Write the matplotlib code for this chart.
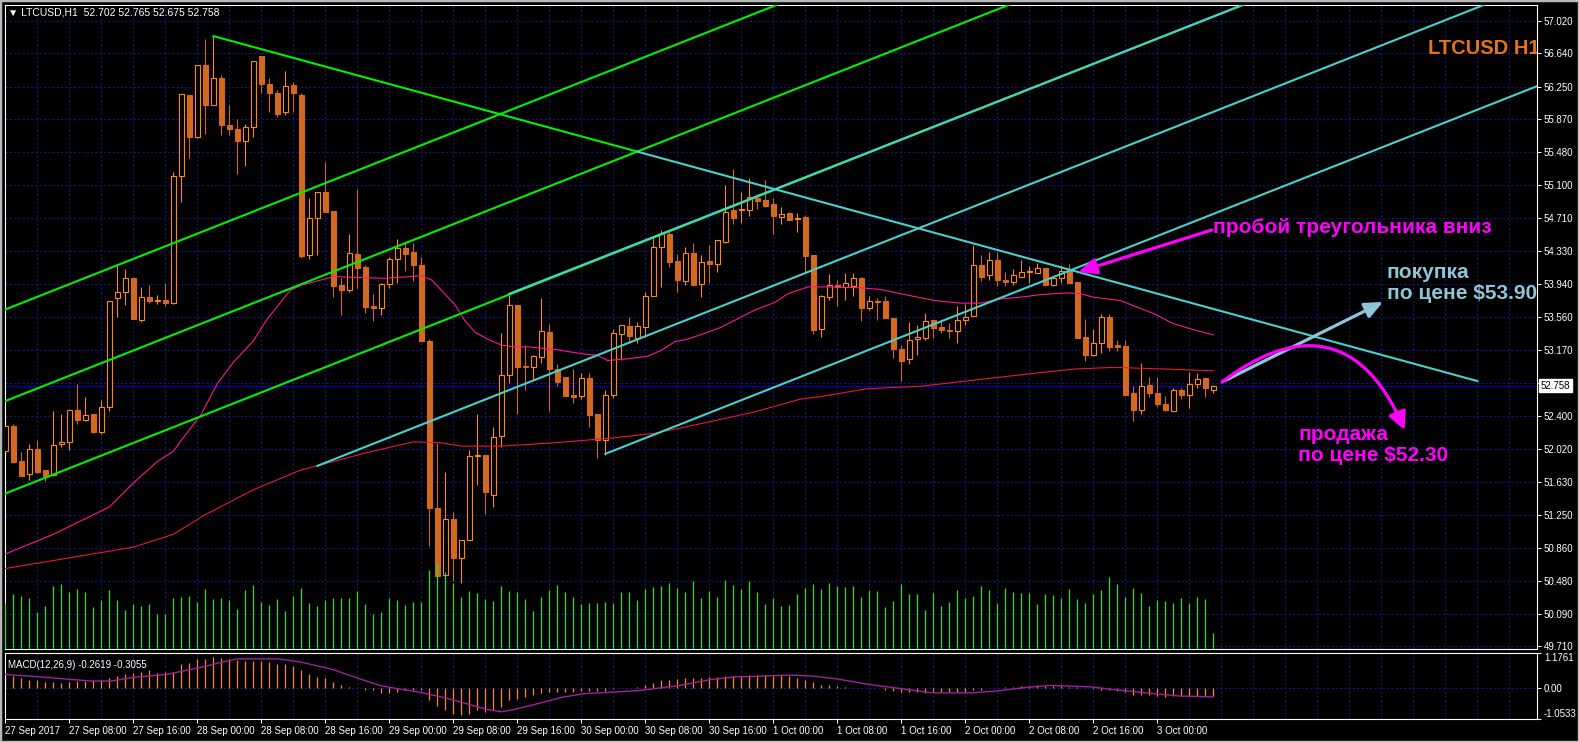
import numpy as np
import matplotlib
matplotlib.use("Agg")
import matplotlib.pyplot as plt
from matplotlib.path import Path
from matplotlib.patches import FancyArrowPatch, Rectangle

plt.rcParams['font.family'] = ['Liberation Sans', 'DejaVu Sans']

# LTCUSD H1, one bar per hour starting 27 Sep 2017 00:00
opens = [51.99, 52.29, 51.88, 51.72, 52.02, 51.77, 51.71, 52.07, 52.10, 52.47,
         52.35, 52.42, 52.22, 52.51, 53.78, 53.85, 54.01, 53.52, 53.79, 53.75,
         53.76, 53.72, 55.20, 56.15, 55.66, 56.50, 56.04, 56.35, 55.80, 55.76,
         55.62, 55.78, 56.61, 56.28, 56.17, 55.95, 56.27, 56.15, 54.28, 54.71,
         55.02, 54.80, 53.93, 53.87, 54.29, 54.14, 53.69, 53.66, 53.94, 54.24,
         54.37, 54.32, 54.17, 53.28, 51.33, 50.55, 51.20, 50.74, 50.95, 51.93,
         51.95, 51.48, 52.17, 52.88, 53.70, 52.99, 52.97, 53.09, 53.38, 52.95,
         52.86, 52.65, 52.63, 52.84, 52.42, 52.12, 52.65, 53.36, 53.45, 53.31,
         53.44, 53.80, 54.38, 54.53, 54.21, 53.98, 54.31, 53.94, 54.21, 54.18,
         54.44, 54.81, 54.81, 54.81, 54.95, 54.93, 54.88, 54.73, 54.77, 54.70,
         54.73, 54.28, 53.42, 53.79, 53.93, 53.91, 53.92, 54.01, 53.66, 53.75,
         53.74, 53.55, 53.18, 53.07, 53.30, 53.31, 53.52, 53.44, 53.41, 53.39,
         53.52, 53.57, 54.16, 54.05, 54.23, 53.99, 53.97, 54.03, 54.08, 54.07,
         54.13, 53.93, 54.01, 54.09, 53.97, 53.33, 53.11, 53.25, 53.56, 53.23,
         53.22, 52.67, 52.47, 52.76, 52.67, 52.54, 52.46, 52.71, 52.65, 52.78,
         52.85, 52.702]
highs = [52.40, 52.31, 51.98, 52.08, 52.12, 51.77, 52.46, 52.43, 52.47, 52.78,
         52.62, 52.42, 52.59, 53.75, 54.16, 54.12, 54.01, 53.91, 53.93, 53.82,
         53.96, 55.25, 56.16, 56.15, 56.50, 56.81, 56.84, 56.38, 56.04, 55.87,
         55.81, 56.55, 56.61, 56.35, 56.21, 56.43, 56.30, 56.17, 54.95, 55.02,
         55.37, 54.80, 54.01, 54.53, 55.05, 54.16, 53.83, 53.96, 54.26, 54.47,
         54.44, 54.42, 54.26, 53.30, 52.09, 51.75, 51.28, 50.95, 52.00, 52.42,
         51.95, 52.27, 53.37, 53.81, 53.70, 53.23, 53.12, 53.78, 53.48, 53.01,
         52.86, 52.95, 52.90, 52.90, 52.42, 52.70, 53.42, 53.46, 53.56, 53.50,
         53.85, 54.50, 54.58, 54.58, 54.30, 54.38, 54.42, 54.28, 54.40, 54.46,
         55.10, 55.29, 55.02, 55.18, 55.00, 55.16, 54.95, 54.84, 54.79, 54.77,
         54.75, 54.28, 53.82, 54.06, 53.99, 54.07, 54.07, 54.03, 53.80, 53.78,
         53.80, 53.55, 53.23, 53.50, 53.46, 53.61, 53.52, 53.53, 53.49, 53.69,
         53.71, 54.40, 54.28, 54.32, 54.32, 54.08, 54.12, 54.23, 54.15, 54.19,
         54.13, 54.03, 54.16, 54.18, 53.97, 53.54, 53.42, 53.59, 53.59, 53.29,
         53.29, 52.75, 53.02, 52.86, 52.86, 52.64, 52.73, 52.73, 52.92, 52.90,
         52.85, 52.765]
lows = [51.97, 51.85, 51.70, 51.66, 51.74, 51.64, 51.70, 52.04, 52.00, 52.31,
        52.34, 52.20, 52.19, 52.46, 53.56, 53.70, 53.53, 53.50, 53.72, 53.71,
        53.69, 53.71, 54.90, 55.41, 55.65, 55.70, 56.04, 55.68, 55.69, 55.23,
        55.32, 55.66, 56.18, 55.95, 55.90, 55.92, 55.95, 54.25, 54.24, 54.28,
        54.78, 53.79, 53.58, 53.85, 53.90, 53.60, 53.51, 53.58, 53.90, 53.96,
        54.09, 53.98, 53.27, 50.88, 50.47, 50.45, 50.48, 50.45, 50.95, 51.60,
        51.26, 51.34, 52.04, 52.79, 52.43, 52.71, 52.82, 53.02, 52.46, 52.75,
        52.64, 52.55, 52.60, 52.27, 51.91, 51.95, 52.61, 53.06, 53.25, 53.25,
        53.32, 53.80, 53.91, 54.14, 53.85, 53.93, 53.93, 53.79, 53.96, 54.08,
        54.42, 54.64, 54.66, 54.74, 54.82, 54.84, 54.53, 54.64, 54.69, 54.55,
        54.07, 53.36, 53.32, 53.76, 53.69, 53.76, 53.80, 53.51, 53.64, 53.52,
        53.55, 53.08, 52.81, 53.01, 53.12, 53.29, 53.31, 53.37, 53.31, 53.25,
        53.47, 53.57, 53.98, 53.99, 53.92, 53.92, 53.93, 54.02, 53.96, 54.07,
        53.92, 53.92, 53.96, 53.96, 53.31, 53.05, 53.10, 53.14, 53.16, 53.16,
        52.65, 52.34, 52.43, 52.62, 52.51, 52.46, 52.46, 52.60, 52.49, 52.73,
        52.62, 52.675]
closes = [52.29, 51.86, 51.70, 52.02, 51.75, 51.70, 52.06, 52.10, 52.47, 52.36,
          52.41, 52.21, 52.51, 53.75, 53.85, 54.01, 53.53, 53.79, 53.74, 53.76,
          53.72, 55.20, 56.16, 55.66, 56.50, 56.04, 56.35, 55.80, 55.75, 55.62,
          55.78, 56.55, 56.28, 56.17, 55.93, 56.26, 56.17, 54.27, 54.71, 55.02,
          54.79, 53.92, 53.87, 54.31, 54.13, 53.67, 53.66, 53.94, 54.24, 54.37,
          54.30, 54.17, 53.28, 51.33, 50.53, 51.20, 50.74, 50.95, 51.93, 51.95,
          51.51, 52.16, 52.88, 53.70, 52.97, 52.97, 53.10, 53.40, 52.95, 52.80,
          52.64, 52.62, 52.84, 52.41, 52.12, 52.65, 53.37, 53.46, 53.34, 53.45,
          53.80, 54.38, 54.53, 54.20, 53.99, 54.31, 53.93, 54.20, 54.18, 54.46,
          54.79, 54.72, 54.82, 54.96, 54.91, 54.86, 54.74, 54.76, 54.69, 54.72,
          54.27, 53.41, 53.80, 53.93, 53.91, 53.95, 54.01, 53.66, 53.74, 53.73,
          53.55, 53.18, 53.05, 53.29, 53.32, 53.51, 53.43, 53.41, 53.39, 53.52,
          53.56, 54.16, 54.03, 54.23, 53.99, 53.97, 54.05, 54.08, 54.08, 54.13,
          53.93, 54.01, 54.09, 53.96, 53.31, 53.11, 53.25, 53.56, 53.21, 53.21,
          52.65, 52.47, 52.75, 52.67, 52.54, 52.47, 52.71, 52.65, 52.78, 52.83,
          52.73, 52.758]
volumes = [136, 163, 156, 151, 110, 128, 186, 193, 168, 178,
           170, 123, 145, 175, 145, 115, 133, 128, 133, 103,
           103, 151, 155, 156, 140, 178, 148, 150, 145, 118,
           175, 191, 140, 130, 148, 113, 158, 181, 136, 128,
           146, 151, 151, 151, 171, 133, 103, 108, 151, 145,
           130, 140, 138, 236, 255, 228, 196, 155, 173, 166,
           148, 141, 188, 171, 170, 148, 113, 155, 175, 191,
           168, 155, 133, 135, 135, 140, 136, 168, 170, 145,
           178, 185, 188, 196, 181, 168, 203, 151, 173, 155,
           205, 191, 178, 203, 168, 133, 151, 128, 131, 163,
           181, 193, 178, 196, 188, 185, 188, 155, 175, 172,
           125, 143, 193, 164, 163, 115, 166, 128, 140, 175,
           152, 158, 188, 175, 136, 181, 170, 165, 165, 133,
           163, 160, 151, 178, 148, 136, 164, 175, 215, 193,
           155, 181, 167, 128, 145, 141, 136, 151, 136, 155,
           149, 46]

# moving averages (bar index, value)
ma_fast_bars = [0, 6, 13, 16, 19, 21, 22, 24.4, 26.5, 28.5, 31, 32.7, 35.6, 37, 41,
                47.3, 52, 53.3, 54.5, 56.2, 57.4, 58.7, 60.3, 62, 63.7, 65.3, 68.7,
                72, 74, 75.3, 77.8, 80.3, 82, 83.7, 85.3, 87.8, 89.5, 92, 93.7, 96.2,
                97.8, 100.3, 102.7, 106.9, 109.4, 111.9, 113.5, 116.2, 119.4, 121.9,
                124.4, 126.9, 129.4, 132.7, 134.4, 136, 139.4, 141, 143.5, 146,
                148.5, 151]
ma_fast = [50.79, 51.02, 51.34, 51.62, 51.87, 51.99, 52.12, 52.41, 52.78, 53.03,
           53.28, 53.53, 53.87, 53.93, 54.03, 54.01, 54.04, 53.99, 53.87, 53.70,
           53.52, 53.38, 53.30, 53.23, 53.21, 53.21, 53.18, 53.13, 53.11, 53.05,
           53.07, 53.10, 53.17, 53.27, 53.30, 53.38, 53.44, 53.56, 53.64, 53.73,
           53.83, 53.91, 53.91, 53.90, 53.88, 53.83, 53.80, 53.75, 53.72, 53.72,
           53.77, 53.79, 53.82, 53.84, 53.83, 53.79, 53.75, 53.69, 53.60, 53.48,
           53.41, 53.35]
ma_slow_bars = [0, 16, 21, 25, 31, 36.9, 39.4, 45, 51, 54.4, 57, 62, 68.7, 75.3,
                81.2, 87.8, 93.7, 99.4, 102, 107.7, 114.4, 121, 128.5, 133.5,
                138.5, 145.2, 151]
ma_slow = [50.62, 50.87, 51.02, 51.25, 51.54, 51.77, 51.83, 51.97, 52.10, 52.09,
           52.05, 52.05, 52.09, 52.14, 52.20, 52.33, 52.45, 52.60, 52.63, 52.72,
           52.75, 52.82, 52.90, 52.95, 52.97, 52.95, 52.93]

# MACD(12,26,9)
macd_main = [0.45, 0.39, 0.32, 0.26, 0.25, 0.20, 0.19, 0.17, 0.20, 0.23,
             0.23, 0.25, 0.26, 0.34, 0.39, 0.47, 0.51, 0.54, 0.59, 0.51,
             0.54, 0.53, 0.79, 0.84, 0.98, 0.99, 1.05, 1.01, 0.96, 0.93,
             0.92, 0.92, 0.92, 0.88, 0.81, 0.81, 0.75, 0.59, 0.45, 0.37,
             0.32, 0.19, 0.09, 0.02, 0.005, -0.08, -0.09, -0.17, -0.19, -0.14,
             -0.09, -0.09, -0.09, -0.42, -0.62, -0.75, -0.88, -0.92, -0.87, -0.75,
             -0.82, -0.75, -0.64, -0.42, -0.37, -0.30, -0.23, -0.19, -0.15, -0.14,
             -0.14, -0.14, -0.11, -0.11, -0.11, -0.10, -0.05, -0.01, 0.01, 0.02,
             0.08, 0.17, 0.25, 0.28, 0.30, 0.32, 0.34, 0.34, 0.37, 0.37,
             0.39, 0.39, 0.39, 0.42, 0.42, 0.42, 0.39, 0.42, 0.39, 0.34,
             0.28, 0.19, 0.11, 0.08, 0.06, 0.02, 0.01, -0.01, 0.01, -0.01,
             -0.06, -0.11, -0.15, -0.15, -0.15, -0.17, -0.15, -0.15, -0.15, -0.15,
             -0.14, -0.09, -0.06, -0.02, 0.01, 0.02, 0.02, 0.06, 0.06, 0.08,
             0.06, 0.06, 0.06, 0.02, 0.02, 0.01, -0.03, -0.06, -0.09, -0.11,
             -0.15, -0.23, -0.23, -0.25, -0.28, -0.32, -0.28, -0.28, -0.26, -0.26,
             -0.26, -0.2619]
signal_bars = [0, 4.3, 8.3, 10.7, 13.2, 16.2, 20.1, 22.6, 25.1, 27.1, 29, 34, 36.9,
               40.9, 43.9, 46.8, 48.8, 51.8, 54.7, 57.7, 60.2, 62, 63.6, 66.6, 69.6,
               72.5, 74.4, 79.3, 84.3, 88.2, 91.2, 94.1, 98.1, 101.1, 104, 108, 112,
               115.9, 120.8, 123.8, 127.8, 130.7, 135.7, 138.6, 143.6, 147, 151]
signal = [0.45, 0.37, 0.28, 0.23, 0.23, 0.36, 0.45, 0.59, 0.73, 0.87, 0.98, 0.98,
          0.87, 0.62, 0.34, 0.08, -0.02, -0.15, -0.32, -0.54, -0.73, -0.81, -0.73,
          -0.53, -0.32, -0.19, -0.17, -0.09, 0.08, 0.28, 0.37, 0.39, 0.43, 0.39,
          0.30, 0.11, -0.03, -0.17, -0.17, -0.11, 0.02, 0.08, 0.03, -0.06, -0.20,
          -0.28, -0.3055]

# drawn trend lines: (bar, price) -> (bar, price)
green_lines = [((-1, 53.61), (160, 59.55)), ((-1, 52.54), (160, 58.48)),
               ((-1, 51.46), (160, 57.40)), ((26, 56.84), (79, 55.49))]
cyan_lines = [((63, 53.83), (160, 57.40)), ((39, 51.82), (195, 57.58)),
              ((75, 51.96), (200, 56.57)), ((79, 55.49), (184, 52.81))]

price_levels = [57.02, 56.64, 56.25, 55.87, 55.48, 55.10, 54.71, 54.33, 53.94, 53.56,
                53.17, 52.79, 52.40, 52.02, 51.63, 51.25, 50.86, 50.48, 50.09, 49.71]
macd_levels = [1.1761, 0.0, -1.0533]
time_labels = ['27 Sep 2017', '27 Sep 08:00', '27 Sep 16:00', '28 Sep 00:00',
               '28 Sep 08:00', '28 Sep 16:00', '29 Sep 00:00', '29 Sep 08:00',
               '29 Sep 16:00', '30 Sep 00:00', '30 Sep 08:00', '30 Sep 16:00',
               '1 Oct 00:00', '1 Oct 08:00', '1 Oct 16:00', '2 Oct 00:00',
               '2 Oct 08:00', '2 Oct 16:00', '3 Oct 00:00']

W, H = 1579, 742
GRID = '#16168e'
UP = '#ff8c00'
DOWN = '#d2691e'
GREEN = '#00f000'
CYAN = '#48d1cc'
MAGENTA = '#ff00ff'
SKY = '#8ec6d8'


def rect(x0, y0, x1, y1):
    return [x0 / W, 1 - y1 / H, (x1 - x0) / W, (y1 - y0) / H]


fig = plt.figure(figsize=(W / 100, H / 100), dpi=100, facecolor='black')
ax = fig.add_axes(rect(5, 5, 1537, 648.5))
ax2 = fig.add_axes(rect(5, 653, 1537, 719), sharex=ax)
vax = fig.add_axes(rect(5, 5, 1537, 648.5), sharex=ax)
fig.add_artist(Rectangle((0, 0), 1, 1, transform=fig.transFigure, fill=False,
                         edgecolor='#b8b8b8', lw=2.5))

o = np.array(opens)
h = np.array(highs)
l = np.array(lows)
c = np.array(closes)
bars = np.arange(len(c))
up = c >= o

for a in (ax, ax2):
    a.set_facecolor('black')
    for s in a.spines.values():
        s.set_color('white')
        s.set_linewidth(0.8)
    a.set_axisbelow(True)
    a.set_xticks(bars[::8])
    a.set_xticks(np.arange(0, 192, 4), minor=True)
    a.xaxis.grid(True, which='both', color=GRID, linestyle=(0, (2.2, 2.2)), lw=0.7)

ax.set_xlim(-0.05, 191.45)
ax.set_ylim(49.686, 57.203)
ax.yaxis.tick_right()
ax.set_yticks(price_levels)
ax.set_yticklabels(['' if abs(v - c[-1]) < 0.05 else f'{v:.3f}' for v in price_levels])
ax.yaxis.grid(True, color=GRID, linestyle=(0, (2.2, 2.2)), lw=0.7)
ax.tick_params(axis='y', colors='white', labelsize=7, length=3, width=0.7, pad=2)
ax.tick_params(axis='x', which='both', bottom=False, labelbottom=False)

# current price line + label
ax.axhline(c[-1], color='#0000c8', lw=0.8, zorder=1)
ax.text(1.0025, c[-1], f'{c[-1]:.3f}', transform=ax.get_yaxis_transform(),
        fontsize=7, color='black', ha='left', va='center', clip_on=False,
        bbox=dict(facecolor='white', edgecolor='white', pad=1.2))

# candles
ax.vlines(bars[up], l[up], h[up], color=UP, lw=0.8, zorder=2)
ax.vlines(bars[~up], l[~up], h[~up], color=DOWN, lw=0.8, zorder=2)
body_lo = np.minimum(o, c)
body_h = np.maximum(np.abs(c - o), 0.012)
ax.bar(bars[up], body_h[up], bottom=body_lo[up], width=0.6, facecolor='black',
       edgecolor=UP, linewidth=0.8, zorder=3)
ax.bar(bars[~up], body_h[~up], bottom=body_lo[~up], width=0.6, facecolor=DOWN,
       edgecolor=DOWN, linewidth=0.8, zorder=3)

# moving averages
ax.plot(ma_slow_bars, ma_slow, color='#e8173c', lw=0.8, zorder=4)
ax.plot(ma_fast_bars, ma_fast, color='#ff1493', lw=0.8, zorder=4)

# trend lines
for (b0, p0), (b1, p1) in green_lines:
    ax.plot([b0, b1], [p0, p1], color=GREEN, lw=1.5, zorder=5)
for (b0, p0), (b1, p1) in cyan_lines:
    ax.plot([b0, b1], [p0, p1], color=CYAN, lw=1.5, zorder=5)

# volumes
vax.set_ylim(0, 1930)
vax.set_axis_off()
vax.patch.set_visible(False)
vax.vlines(bars, 0, volumes, color='#1ee61e', lw=0.9)

# annotations
ax.text(191.8, 56.70, 'LTCUSD H1', color='#e6731b', fontsize=14.5, fontweight='bold',
        ha='right', va='center', clip_on=True, zorder=6)
ax.add_patch(FancyArrowPatch((150.8, 54.575), (134.1, 54.084),
                             arrowstyle='-|>,head_length=0.9,head_width=0.4',
                             mutation_scale=12, color=MAGENTA, lw=2.3,
                             shrinkA=0, shrinkB=0, zorder=7))
ax.text(151.0, 54.60, 'пробой треугольника вниз', color=MAGENTA, fontsize=15,
        fontweight='bold', ha='left', va='center', zorder=7)
ax.add_patch(FancyArrowPatch((152.1, 52.80), (172.2, 53.734),
                             arrowstyle='-|>,head_length=0.9,head_width=0.4',
                             mutation_scale=12, color=SKY, lw=2.3,
                             shrinkA=0, shrinkB=0, zorder=7))
ax.text(172.7, 53.956, 'покупка\nпо цене $53.90', color=SKY, fontsize=15,
        fontweight='bold', ha='left', va='center', linespacing=1.1,
        parse_math=False, zorder=7)
curve = Path([(152.1, 52.80), (160.6, 53.407), (169.3, 53.465), (174.9, 52.238)],
             [Path.MOVETO, Path.CURVE4, Path.CURVE4, Path.CURVE4])
ax.add_patch(FancyArrowPatch(path=curve,
                             arrowstyle='-|>,head_length=0.9,head_width=0.45',
                             mutation_scale=12, color=MAGENTA, lw=2.3, zorder=7))
ax.text(161.6, 52.063, 'продажа\nпо цене $52.30', color=MAGENTA, fontsize=15,
        fontweight='bold', ha='left', va='center', linespacing=1.1,
        parse_math=False, zorder=7)

ax.text(3 / 1532, 0.989, '\u25bc LTCUSD,H1  52.702 52.765 52.675 52.758',
        transform=ax.transAxes, color='white', fontsize=7.5, ha='left', va='center',
        zorder=8)

# MACD panel
ax2.set_ylim(-1.0533, 1.1761)
ax2.axhline(0, color=GRID, linestyle=(0, (2.2, 2.2)), lw=0.7, zorder=0)
ax2.vlines(bars, 0, macd_main, color='#ff8c1a', lw=0.9, zorder=2)
ax2.plot(signal_bars, signal, color='#a020a0', lw=1.0, zorder=3)
ax2.yaxis.tick_right()
ax2.set_yticks(macd_levels)
ax2.set_yticklabels(['1.1761', '0.00', '-1.0533'])
lbls = ax2.get_yticklabels()
lbls[0].set_va('top')
lbls[2].set_va('bottom')
ax2.tick_params(axis='y', colors='white', labelsize=7, length=3, width=0.7, pad=2)
ax2.set_xticklabels(time_labels, ha='left')
ax2.tick_params(axis='x', which='major', colors='white', labelsize=7, length=3,
                width=0.7, pad=2)
ax2.tick_params(axis='x', which='minor', length=0)
ax2.text(3 / 1532, 0.9, 'MACD(12,26,9) -0.2619 -0.3055', transform=ax2.transAxes,
         color='white', fontsize=7, ha='left', va='top')

fig.savefig('out.png', dpi=100, facecolor='black')
